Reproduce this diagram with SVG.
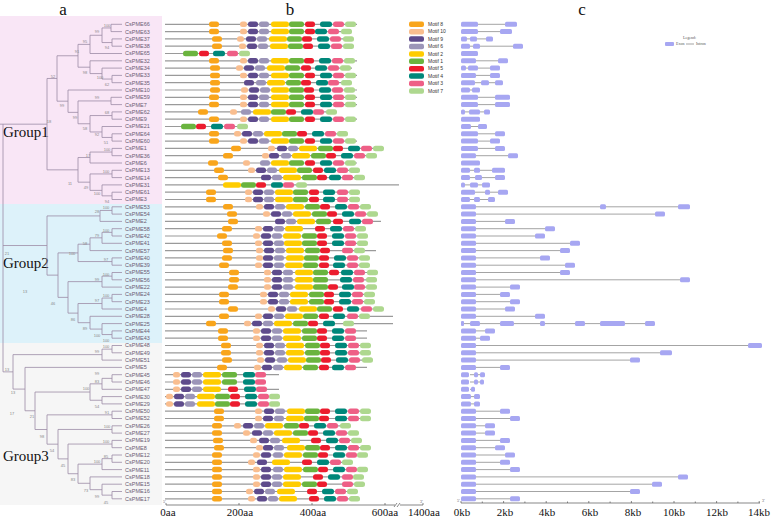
<svg xmlns="http://www.w3.org/2000/svg" xmlns:xlink="http://www.w3.org/1999/xlink" width="777" height="520" viewBox="0 0 777 520">
<style>
.lab{font-family:"Liberation Sans",Arial,sans-serif;font-size:5.5px;fill:#6b5b73}
.bs{font-family:"Liberation Sans",Arial,sans-serif;font-size:4px;fill:#888;text-anchor:middle}
.grp{font-family:"Liberation Serif","Times New Roman",serif;font-size:15px;fill:#111}
.pan{font-family:"Liberation Serif","Times New Roman",serif;font-size:17px;fill:#111;text-anchor:middle}
.ax{font-family:"Liberation Serif","Times New Roman",serif;font-size:11px;fill:#111;text-anchor:middle}
.tiny{font-family:"Liberation Serif","Times New Roman",serif;font-size:4px;fill:#555}
.leg{font-family:"Liberation Sans",Arial,sans-serif;font-size:5px;fill:#333}
.bb{stroke:#9a9a9a;stroke-width:1.2}
.ex{fill:#A7A7F2}
.in{stroke:#666;stroke-width:0.6}
.tree{fill:none;stroke:#9c8ca6;stroke-width:0.8}
.axl{stroke:#555;stroke-width:0.7;fill:none}
</style>
<defs>
<rect id="m8" y="-2.75" width="10" height="5.5" rx="2.5" fill="#F9A51B"/>
<rect id="m10" y="-2.75" width="7" height="5.5" rx="2.5" fill="#F9BE8F"/>
<rect id="m9" y="-2.75" width="10" height="5.5" rx="2.5" fill="#5E4B8C"/>
<rect id="m6" y="-2.75" width="10" height="5.5" rx="2.5" fill="#9C95B8"/>
<rect id="m2" y="-2.75" width="18" height="5.5" rx="2.5" fill="#FFCC00"/>
<rect id="m1" y="-2.75" width="15" height="5.5" rx="2.5" fill="#6AB43E"/>
<rect id="m5" y="-2.75" width="10" height="5.5" rx="2.5" fill="#EC1C2E"/>
<rect id="m4" y="-2.75" width="12" height="5.5" rx="2.5" fill="#00877A"/>
<rect id="m3" y="-2.75" width="11" height="5.5" rx="2.5" fill="#EE5F86"/>
<rect id="m7" y="-2.75" width="11" height="5.5" rx="2.5" fill="#AED88F"/>
</defs>
<rect width="777" height="520" fill="#fff"/>
<g id="backgrounds">
<rect x="0" y="16" width="162" height="188" fill="#F9E6F6"/>
<rect x="0" y="204" width="162" height="139" fill="#DDF2FA"/>
<rect x="0" y="343" width="162" height="162" fill="#F6F6F6"/>
</g>
<g id="panels">
<text class="pan" x="63" y="15">a</text>
<text class="pan" x="290" y="15">b</text>
<text class="pan" x="582" y="15">c</text>
<text class="grp" x="3" y="137">Group1</text>
<text class="grp" x="3" y="268">Group2</text>
<text class="grp" x="3" y="461">Group3</text>
</g>
<g id="tree">
<path class="tree" d="M111 24.3V31.6M111 24.3H122M111 31.6H122M112 38.9V46.2M112 38.9H122M112 46.2H122M102 27.95V42.55M102 27.95H111M102 42.55H112M90 35.25V53.5M90 35.25H102M90 53.5H122M112 75.4V82.7M112 75.4H122M112 82.7H122M102 68.1V79.05M102 68.1H122M102 79.05H112M90 60.8V73.58M90 60.8H122M90 73.58H102M78 44.38V67.19M78 44.38H90M78 67.19H90M111 97.3V104.6M111 97.3H122M111 104.6H122M112 111.9V119.2M112 111.9H122M112 119.2H122M112 133.8V141.1M112 133.8H122M112 141.1H122M102 126.5V137.45M102 126.5H122M102 137.45H112M90 115.55V131.98M90 115.55H112M90 131.98H102M78 100.95V123.76M78 100.95H111M78 123.76H90M68 90V112.36M68 90H122M68 112.36H78M57 55.78V101.18M57 55.78H78M57 101.18H68M112 148.4V155.7M112 148.4H122M112 155.7H122M90 152.05V163M90 152.05H112M90 163H122M112 170.3V177.6M112 170.3H122M112 177.6H122M112 192.2V199.5M112 192.2H122M112 199.5H122M102 184.9V195.85M102 184.9H122M102 195.85H112M90 173.95V190.38M90 173.95H112M90 190.38H102M78 157.53V182.16M78 157.53H90M78 182.16H90M47 78.48V169.85M47 78.48H57M47 169.85H78"/>
<path class="tree" d="M112 206.8V214.1M112 206.8H122M112 214.1H122M100 210.45V221.4M100 210.45H112M100 221.4H122M112 228.7V236M112 228.7H122M112 236H122M102 232.35V243.3M102 232.35H112M102 243.3H122M90 237.83V250.6M90 237.83H102M90 250.6H122M112 257.9V265.2M112 257.9H122M112 265.2H122M78 244.2V261.55M78 244.2H90M78 261.55H112M112 272.5V279.8M112 272.5H122M112 279.8H122M102 276.15V287.1M102 276.15H112M102 287.1H122M112 294.4V301.7M112 294.4H122M112 301.7H122M102 298.05V309M102 298.05H112M102 309H122M112 330.9V338.2M112 330.9H122M112 338.2H122M102 323.6V334.55M102 323.6H122M102 334.55H112M90 316.3V329.08M90 316.3H122M90 329.08H102M78 303.53V322.69M78 303.53H102M78 322.69H90M68 281.63V313.11M68 281.63H102M68 313.11H78M58 252.9V297.37M58 252.9H78M58 297.37H68M47 215.93V275.14M47 215.93H100M47 275.14H58"/>
<path class="tree" d="M112 345.5V352.8M112 345.5H122M112 352.8H122M102 349.15V360.1M102 349.15H112M102 360.1H122M112 374.7V382M112 374.7H122M112 382H122M102 378.35V389.3M102 378.35H112M102 389.3H122M102 396.6V403.9M102 396.6H122M102 403.9H122M90 383.83V400.25M90 383.83H102M90 400.25H102M112 411.2V418.5M112 411.2H122M112 418.5H122M112 425.8V433.1M112 425.8H122M112 433.1H122M112 440.4V447.7M112 440.4H122M112 447.7H122M112 455V462.3M112 455H122M112 462.3H122M102 458.65V469.6M102 458.65H112M102 469.6H122M112 491.5V498.8M112 491.5H122M112 498.8H122M102 484.2V495.15M102 484.2H122M102 495.15H112M90 476.9V489.68M90 476.9H122M90 489.68H102M78 464.13V483.29M78 464.13H102M78 483.29H90M68 444.05V473.71M68 444.05H112M68 473.71H78M58 429.45V458.88M58 429.45H112M58 458.88H68M47 414.85V444.17M47 414.85H112M47 444.17H58M35 392.04V429.51M35 392.04H90M35 429.51H47M25 367.4V410.78M25 367.4H122M25 410.78H35M13 354.63V389.09M13 354.63H102M13 389.09H25"/>
<path class="tree" d="M3 124.17V371.86M0 124.17H47M3 245.53H47M3 371.86H13"/>
</g>
<g id="bootstrap">
<text class="bs" x="107" y="26.5">100</text><text class="bs" x="107" y="48.8">94</text><text class="bs" x="97" y="32.5">99</text><text class="bs" x="85" y="43.2">95</text><text class="bs" x="77" y="53.2">91</text><text class="bs" x="85" y="73.5">98</text><text class="bs" x="100" y="78.5">100</text><text class="bs" x="107" y="85.5">62</text><text class="bs" x="53" y="78.2">52</text><text class="bs" x="97" y="99.2">99</text><text class="bs" x="62" y="106.5">99</text><text class="bs" x="75" y="118.5">99</text><text class="bs" x="107" y="113.5">68</text><text class="bs" x="85" y="129.5">58</text><text class="bs" x="97" y="135.5">92</text><text class="bs" x="106" y="143.5">51</text><text class="bs" x="49" y="122.5">18</text><text class="bs" x="107" y="150.5">100</text><text class="bs" x="88" y="156.5">17</text><text class="bs" x="70" y="184.5">11</text><text class="bs" x="106" y="172.5">100</text><text class="bs" x="86" y="189.2">49</text><text class="bs" x="97" y="194.8">100</text><text class="bs" x="107" y="202.5">94</text>
<text class="bs" x="106" y="209.2">100</text><text class="bs" x="97" y="213.2">28</text><text class="bs" x="106" y="231.5">100</text><text class="bs" x="97" y="236.5">79</text><text class="bs" x="85" y="244.5">58</text><text class="bs" x="106" y="260.5">97</text><text class="bs" x="72" y="254.5">100</text><text class="bs" x="7" y="254.5">21</text><text class="bs" x="106" y="275.8">100</text><text class="bs" x="97" y="280.5">99</text><text class="bs" x="25" y="293.2">13</text><text class="bs" x="106" y="296.5">100</text><text class="bs" x="97" y="301.5">97</text><text class="bs" x="53" y="304.8">46</text><text class="bs" x="73" y="320.5">86</text><text class="bs" x="85" y="329.8">89</text><text class="bs" x="97" y="336.5">100</text><text class="bs" x="106" y="341.5">100</text>
<text class="bs" x="106" y="347.5">100</text><text class="bs" x="97" y="352.5">99</text><text class="bs" x="7" y="370.5">13</text><text class="bs" x="97" y="374.8">99</text><text class="bs" x="97" y="382.5">83</text><text class="bs" x="86" y="389.8">100</text><text class="bs" x="13" y="394.2">13</text><text class="bs" x="97" y="407.5">54</text><text class="bs" x="12" y="414.8">17</text><text class="bs" x="32" y="418.2">21</text><text class="bs" x="107" y="414.2">91</text><text class="bs" x="107" y="427.5">100</text><text class="bs" x="42" y="438.2">98</text><text class="bs" x="52" y="451.5">54</text><text class="bs" x="106" y="443.2">100</text><text class="bs" x="106" y="457.5">85</text><text class="bs" x="97" y="462.5">100</text><text class="bs" x="63" y="466.5">45</text><text class="bs" x="73" y="480.8">83</text><text class="bs" x="86" y="492.2">73</text><text class="bs" x="97" y="497.5">99</text><text class="bs" x="106" y="504.2">45</text>
</g>
<g id="motif-legend">
<rect x="409" y="21.55" width="15" height="5.5" rx="2" fill="#F9A51B"/><text class="leg" x="428" y="26">Motif 8</text>
<rect x="409" y="28.95" width="15" height="5.5" rx="2" fill="#F9BE8F"/><text class="leg" x="428" y="33.4">Motif 10</text>
<rect x="409" y="36.35" width="15" height="5.5" rx="2" fill="#5E4B8C"/><text class="leg" x="428" y="40.8">Motif 9</text>
<rect x="409" y="43.75" width="15" height="5.5" rx="2" fill="#9C95B8"/><text class="leg" x="428" y="48.2">Motif 6</text>
<rect x="409" y="51.15" width="15" height="5.5" rx="2" fill="#FFCC00"/><text class="leg" x="428" y="55.6">Motif 2</text>
<rect x="409" y="58.55" width="15" height="5.5" rx="2" fill="#6AB43E"/><text class="leg" x="428" y="63">Motif 1</text>
<rect x="409" y="65.95" width="15" height="5.5" rx="2" fill="#EC1C2E"/><text class="leg" x="428" y="70.4">Motif 5</text>
<rect x="409" y="73.35" width="15" height="5.5" rx="2" fill="#00877A"/><text class="leg" x="428" y="77.8">Motif 4</text>
<rect x="409" y="80.75" width="15" height="5.5" rx="2" fill="#EE5F86"/><text class="leg" x="428" y="85.2">Motif 3</text>
<rect x="409" y="88.15" width="15" height="5.5" rx="2" fill="#AED88F"/><text class="leg" x="428" y="92.6">Motif 7</text>
</g>
<g id="gene-legend">
<text class="tiny" x="683" y="39">Legend:</text>
<rect class="ex" x="665" y="42" width="9" height="4" rx="1"/><text class="tiny" x="676" y="45.3">Exon</text>
<line class="in" x1="686" y1="44" x2="694" y2="44"/><text class="tiny" x="696" y="45.3">Intron</text>
</g>
<g id="rows">
<g id="r0" transform="translate(0,24.3)"><text class="lab" x="125" y="1.9">CsPME66</text><line class="bb" x1="165" x2="357"/><use href="#m8" x="209"/><use href="#m10" x="240"/><use href="#m9" x="248"/><use href="#m6" x="259"/><use href="#m2" x="271"/><use href="#m1" x="289"/><use href="#m5" x="305"/><use href="#m4" x="320"/><use href="#m3" x="333"/><use href="#m7" x="345"/><line class="in" x1="475" x2="507"/><rect class="ex" x="461" y="-2.5" width="17" height="5" rx="1.5"/><rect class="ex" x="505" y="-2.5" width="12" height="5" rx="1.5"/></g>
<g id="r1" transform="translate(0,31.6)"><text class="lab" x="125" y="1.9">CsPME63</text><line class="bb" x1="165" x2="352"/><use href="#m8" x="209"/><use href="#m10" x="240"/><use href="#m9" x="248"/><use href="#m6" x="259"/><use href="#m2" x="271"/><use href="#m1" x="289"/><use href="#m5" x="305"/><use href="#m4" x="315"/><use href="#m3" x="328"/><use href="#m7" x="341"/><line class="in" x1="475" x2="502"/><rect class="ex" x="461" y="-2.5" width="17" height="5" rx="1.5"/><rect class="ex" x="500" y="-2.5" width="12" height="5" rx="1.5"/></g>
<g id="r2" transform="translate(0,38.9)"><text class="lab" x="125" y="1.9">CsPME37</text><line class="bb" x1="165" x2="353"/><use href="#m8" x="212"/><use href="#m10" x="237"/><use href="#m9" x="246"/><use href="#m6" x="257"/><use href="#m2" x="269"/><use href="#m1" x="287"/><use href="#m5" x="302"/><use href="#m4" x="317"/><use href="#m3" x="330"/><use href="#m7" x="343"/><line class="in" x1="465" x2="488"/><rect class="ex" x="461" y="-2.5" width="6" height="5" rx="1.5"/><rect class="ex" x="470" y="-2.5" width="7" height="5" rx="1.5"/><rect class="ex" x="486" y="-2.5" width="7" height="5" rx="1.5"/></g>
<g id="r3" transform="translate(0,46.2)"><text class="lab" x="125" y="1.9">CsPME38</text><line class="bb" x1="165" x2="354"/><use href="#m8" x="212"/><use href="#m10" x="239"/><use href="#m9" x="247"/><use href="#m6" x="258"/><use href="#m2" x="270"/><use href="#m1" x="288"/><use href="#m5" x="303"/><use href="#m4" x="318"/><use href="#m3" x="331"/><use href="#m7" x="343"/><line class="in" x1="468" x2="515"/><rect class="ex" x="461" y="-2.5" width="9" height="5" rx="1.5"/><rect class="ex" x="473" y="-2.5" width="7" height="5" rx="1.5"/><rect class="ex" x="513" y="-2.5" width="10" height="5" rx="1.5"/></g>
<g id="r4" transform="translate(0,53.5)"><text class="lab" x="125" y="1.9">CsPME65</text><line class="bb" x1="165" x2="250"/><use href="#m1" x="183"/><use href="#m5" x="199"/><use href="#m4" x="213"/><use href="#m3" x="227"/><use href="#m7" x="239"/><rect class="ex" x="461" y="-2.5" width="17" height="5" rx="1.5"/></g>
<g id="r5" transform="translate(0,60.8)"><text class="lab" x="125" y="1.9">CsPME32</text><line class="bb" x1="165" x2="357"/><use href="#m8" x="209"/><use href="#m10" x="240"/><use href="#m9" x="248"/><use href="#m6" x="259"/><use href="#m2" x="271"/><use href="#m1" x="289"/><use href="#m5" x="304"/><use href="#m4" x="319"/><use href="#m3" x="332"/><use href="#m7" x="344"/><line class="in" x1="475" x2="500"/><rect class="ex" x="461" y="-2.5" width="15" height="5" rx="1.5"/><rect class="ex" x="498" y="-2.5" width="10" height="5" rx="1.5"/></g>
<g id="r6" transform="translate(0,68.1)"><text class="lab" x="125" y="1.9">CsPME34</text><line class="bb" x1="165" x2="352"/><use href="#m8" x="210"/><use href="#m10" x="236"/><use href="#m9" x="244"/><use href="#m6" x="255"/><use href="#m2" x="267"/><use href="#m1" x="285"/><use href="#m5" x="301"/><use href="#m4" x="315"/><use href="#m3" x="328"/><use href="#m7" x="340"/><line class="in" x1="464" x2="492"/><rect class="ex" x="461" y="-2.5" width="5" height="5" rx="1.5"/><rect class="ex" x="468" y="-2.5" width="10" height="5" rx="1.5"/><rect class="ex" x="490" y="-2.5" width="10" height="5" rx="1.5"/></g>
<g id="r7" transform="translate(0,75.4)"><text class="lab" x="125" y="1.9">CsPME33</text><line class="bb" x1="165" x2="357"/><use href="#m8" x="210"/><use href="#m10" x="240"/><use href="#m9" x="248"/><use href="#m6" x="259"/><use href="#m2" x="271"/><use href="#m1" x="289"/><use href="#m5" x="305"/><use href="#m4" x="320"/><use href="#m3" x="333"/><use href="#m7" x="345"/><line class="in" x1="475" x2="492"/><rect class="ex" x="461" y="-2.5" width="15" height="5" rx="1.5"/><rect class="ex" x="490" y="-2.5" width="10" height="5" rx="1.5"/></g>
<g id="r8" transform="translate(0,82.7)"><text class="lab" x="125" y="1.9">CsPME35</text><line class="bb" x1="165" x2="352"/><use href="#m8" x="210"/><use href="#m9" x="244"/><use href="#m6" x="256"/><use href="#m2" x="267"/><use href="#m1" x="286"/><use href="#m5" x="301"/><use href="#m4" x="316"/><use href="#m3" x="328"/><use href="#m7" x="341"/><line class="in" x1="475" x2="495"/><rect class="ex" x="461" y="-2.5" width="14" height="5" rx="1.5"/><rect class="ex" x="481" y="-2.5" width="8" height="5" rx="1.5"/><rect class="ex" x="495" y="-2.5" width="8" height="5" rx="1.5"/></g>
<g id="r9" transform="translate(0,90)"><text class="lab" x="125" y="1.9">CsPME10</text><line class="bb" x1="165" x2="357"/><use href="#m8" x="210"/><use href="#m10" x="241"/><use href="#m9" x="249"/><use href="#m6" x="260"/><use href="#m2" x="271"/><use href="#m1" x="289"/><use href="#m5" x="304"/><use href="#m4" x="319"/><use href="#m3" x="332"/><use href="#m7" x="344"/><line class="in" x1="468" x2="474"/><rect class="ex" x="461" y="-2.5" width="9" height="5" rx="1.5"/><rect class="ex" x="472" y="-2.5" width="8" height="5" rx="1.5"/></g>
<g id="r10" transform="translate(0,97.3)"><text class="lab" x="125" y="1.9">CsPME59</text><line class="bb" x1="165" x2="357"/><use href="#m8" x="209"/><use href="#m10" x="240"/><use href="#m9" x="248"/><use href="#m6" x="259"/><use href="#m2" x="271"/><use href="#m1" x="289"/><use href="#m5" x="305"/><use href="#m4" x="320"/><use href="#m3" x="333"/><use href="#m7" x="345"/><line class="in" x1="475" x2="497"/><rect class="ex" x="461" y="-2.5" width="17" height="5" rx="1.5"/><rect class="ex" x="495" y="-2.5" width="15" height="5" rx="1.5"/></g>
<g id="r11" transform="translate(0,104.6)"><text class="lab" x="125" y="1.9">CsPME7</text><line class="bb" x1="165" x2="357"/><use href="#m8" x="209"/><use href="#m10" x="240"/><use href="#m9" x="248"/><use href="#m6" x="259"/><use href="#m2" x="271"/><use href="#m1" x="289"/><use href="#m5" x="305"/><use href="#m4" x="320"/><use href="#m3" x="333"/><use href="#m7" x="345"/><line class="in" x1="475" x2="497"/><rect class="ex" x="461" y="-2.5" width="17" height="5" rx="1.5"/><rect class="ex" x="495" y="-2.5" width="15" height="5" rx="1.5"/></g>
<g id="r12" transform="translate(0,111.9)"><text class="lab" x="125" y="1.9">CsPME62</text><line class="bb" x1="165" x2="337"/><use href="#m8" x="198"/><use href="#m10" x="230"/><use href="#m6" x="241"/><use href="#m2" x="253"/><use href="#m1" x="271"/><use href="#m5" x="286"/><use href="#m4" x="301"/><use href="#m3" x="313"/><use href="#m7" x="326"/><line class="in" x1="464" x2="486"/><rect class="ex" x="461" y="-2.5" width="4" height="5" rx="1.5"/><rect class="ex" x="469" y="-2.5" width="11" height="5" rx="1.5"/><rect class="ex" x="484" y="-2.5" width="6" height="5" rx="1.5"/></g>
<g id="r13" transform="translate(0,119.2)"><text class="lab" x="125" y="1.9">CsPME9</text><line class="bb" x1="165" x2="357"/><use href="#m8" x="209"/><use href="#m10" x="240"/><use href="#m9" x="248"/><use href="#m6" x="259"/><use href="#m2" x="271"/><use href="#m1" x="289"/><use href="#m5" x="305"/><use href="#m4" x="320"/><use href="#m3" x="333"/><use href="#m7" x="345"/><rect class="ex" x="461" y="-2.5" width="19" height="5" rx="1.5"/></g>
<g id="r14" transform="translate(0,126.5)"><text class="lab" x="125" y="1.9">CsPME21</text><line class="bb" x1="165" x2="248"/><use href="#m1" x="181"/><use href="#m5" x="196"/><use href="#m4" x="211"/><use href="#m3" x="224"/><use href="#m7" x="237"/><line class="in" x1="470" x2="480"/><rect class="ex" x="461" y="-2.5" width="10" height="5" rx="1.5"/><rect class="ex" x="478" y="-2.5" width="9" height="5" rx="1.5"/></g>
<g id="r15" transform="translate(0,133.8)"><text class="lab" x="125" y="1.9">CsPME64</text><line class="bb" x1="165" x2="348"/><use href="#m8" x="209"/><use href="#m10" x="234"/><use href="#m9" x="242"/><use href="#m6" x="253"/><use href="#m2" x="264"/><use href="#m1" x="282"/><use href="#m5" x="297"/><use href="#m4" x="312"/><use href="#m3" x="325"/><use href="#m7" x="337"/><line class="in" x1="475" x2="497"/><rect class="ex" x="461" y="-2.5" width="17" height="5" rx="1.5"/><rect class="ex" x="495" y="-2.5" width="10" height="5" rx="1.5"/></g>
<g id="r16" transform="translate(0,141.1)"><text class="lab" x="125" y="1.9">CsPME60</text><line class="bb" x1="165" x2="357"/><use href="#m8" x="209"/><use href="#m10" x="240"/><use href="#m9" x="248"/><use href="#m6" x="259"/><use href="#m2" x="271"/><use href="#m1" x="289"/><use href="#m5" x="305"/><use href="#m4" x="320"/><use href="#m3" x="333"/><use href="#m7" x="345"/><line class="in" x1="475" x2="492"/><rect class="ex" x="461" y="-2.5" width="17" height="5" rx="1.5"/><rect class="ex" x="490" y="-2.5" width="10" height="5" rx="1.5"/></g>
<g id="r17" transform="translate(0,148.4)"><text class="lab" x="125" y="1.9">CsPME1</text><line class="bb" x1="165" x2="384"/><use href="#m8" x="231"/><use href="#m10" x="268"/><use href="#m9" x="277"/><use href="#m6" x="288"/><use href="#m2" x="299"/><use href="#m1" x="318"/><use href="#m5" x="333"/><use href="#m4" x="348"/><use href="#m3" x="361"/><use href="#m7" x="373"/><line class="in" x1="475" x2="497"/><rect class="ex" x="461" y="-2.5" width="17" height="5" rx="1.5"/><rect class="ex" x="495" y="-2.5" width="10" height="5" rx="1.5"/></g>
<g id="r18" transform="translate(0,155.7)"><text class="lab" x="125" y="1.9">CsPME36</text><line class="bb" x1="165" x2="377"/><use href="#m8" x="223"/><use href="#m10" x="262"/><use href="#m9" x="269"/><use href="#m6" x="281"/><use href="#m2" x="292"/><use href="#m1" x="311"/><use href="#m5" x="326"/><use href="#m4" x="341"/><use href="#m3" x="354"/><use href="#m7" x="366"/><line class="in" x1="475" x2="510"/><rect class="ex" x="461" y="-2.5" width="15" height="5" rx="1.5"/><rect class="ex" x="508" y="-2.5" width="10" height="5" rx="1.5"/></g>
<g id="r19" transform="translate(0,163)"><text class="lab" x="125" y="1.9">CsPME6</text><line class="bb" x1="165" x2="357"/><use href="#m8" x="208"/><use href="#m10" x="243"/><use href="#m6" x="260"/><use href="#m2" x="271"/><use href="#m1" x="289"/><use href="#m5" x="305"/><use href="#m4" x="320"/><use href="#m3" x="333"/><use href="#m7" x="345"/><rect class="ex" x="461" y="-2.5" width="19" height="5" rx="1.5"/></g>
<g id="r20" transform="translate(0,170.3)"><text class="lab" x="125" y="1.9">CsPME13</text><line class="bb" x1="165" x2="360"/><use href="#m8" x="214"/><use href="#m10" x="248"/><use href="#m9" x="256"/><use href="#m6" x="267"/><use href="#m2" x="279"/><use href="#m1" x="297"/><use href="#m5" x="313"/><use href="#m4" x="324"/><use href="#m3" x="337"/><use href="#m7" x="349"/><line class="in" x1="468" x2="497"/><rect class="ex" x="461" y="-2.5" width="9" height="5" rx="1.5"/><rect class="ex" x="474" y="-2.5" width="6" height="5" rx="1.5"/><rect class="ex" x="492" y="-2.5" width="13" height="5" rx="1.5"/></g>
<g id="r21" transform="translate(0,177.6)"><text class="lab" x="125" y="1.9">CsPME14</text><line class="bb" x1="165" x2="365"/><use href="#m8" x="218"/><use href="#m9" x="261"/><use href="#m6" x="272"/><use href="#m2" x="283"/><use href="#m1" x="302"/><use href="#m5" x="317"/><use href="#m4" x="329"/><use href="#m3" x="342"/><use href="#m7" x="354"/><line class="in" x1="468" x2="497"/><rect class="ex" x="461" y="-2.5" width="9" height="5" rx="1.5"/><rect class="ex" x="475" y="-2.5" width="7" height="5" rx="1.5"/><rect class="ex" x="495" y="-2.5" width="10" height="5" rx="1.5"/></g>
<g id="r22" transform="translate(0,184.9)"><text class="lab" x="125" y="1.9">CsPME31</text><line class="bb" x1="165" x2="399"/><use href="#m2" x="223"/><use href="#m1" x="241"/><use href="#m5" x="256"/><use href="#m4" x="271"/><use href="#m3" x="283"/><use href="#m7" x="296"/><line class="in" x1="464" x2="484"/><rect class="ex" x="461" y="-2.5" width="4" height="5" rx="1.5"/><rect class="ex" x="470" y="-2.5" width="8" height="5" rx="1.5"/><rect class="ex" x="482" y="-2.5" width="8" height="5" rx="1.5"/></g>
<g id="r23" transform="translate(0,192.2)"><text class="lab" x="125" y="1.9">CsPME61</text><line class="bb" x1="165" x2="360"/><use href="#m8" x="206"/><use href="#m10" x="245"/><use href="#m9" x="253"/><use href="#m6" x="264"/><use href="#m2" x="275"/><use href="#m1" x="293"/><use href="#m5" x="309"/><use href="#m4" x="323"/><use href="#m3" x="337"/><use href="#m7" x="349"/><line class="in" x1="475" x2="500"/><rect class="ex" x="461" y="-2.5" width="14" height="5" rx="1.5"/><rect class="ex" x="485" y="-2.5" width="5" height="5" rx="1.5"/><rect class="ex" x="498" y="-2.5" width="10" height="5" rx="1.5"/></g>
<g id="r24" transform="translate(0,199.5)"><text class="lab" x="125" y="1.9">CsPME3</text><line class="bb" x1="165" x2="360"/><use href="#m8" x="206"/><use href="#m10" x="245"/><use href="#m9" x="253"/><use href="#m6" x="264"/><use href="#m2" x="275"/><use href="#m1" x="293"/><use href="#m5" x="309"/><use href="#m4" x="323"/><use href="#m3" x="337"/><use href="#m7" x="349"/><line class="in" x1="468" x2="490"/><rect class="ex" x="461" y="-2.5" width="9" height="5" rx="1.5"/><rect class="ex" x="474" y="-2.5" width="6" height="5" rx="1.5"/><rect class="ex" x="488" y="-2.5" width="7" height="5" rx="1.5"/></g>
<g id="r25" transform="translate(0,206.8)"><text class="lab" x="125" y="1.9">CsPME53</text><line class="bb" x1="165" x2="371"/><use href="#m8" x="223"/><use href="#m10" x="256"/><use href="#m9" x="264"/><use href="#m6" x="275"/><use href="#m2" x="286"/><use href="#m1" x="305"/><use href="#m5" x="320"/><use href="#m4" x="335"/><use href="#m3" x="348"/><use href="#m7" x="360"/><line class="in" x1="475" x2="685"/><rect class="ex" x="461" y="-2.5" width="15" height="5" rx="1.5"/><rect class="ex" x="600" y="-2.5" width="6" height="5" rx="1.5"/><rect class="ex" x="678" y="-2.5" width="12" height="5" rx="1.5"/></g>
<g id="r26" transform="translate(0,214.1)"><text class="lab" x="125" y="1.9">CsPME54</text><line class="bb" x1="165" x2="378"/><use href="#m8" x="227"/><use href="#m10" x="263"/><use href="#m9" x="271"/><use href="#m6" x="282"/><use href="#m2" x="293"/><use href="#m1" x="312"/><use href="#m5" x="327"/><use href="#m4" x="342"/><use href="#m3" x="355"/><use href="#m7" x="367"/><line class="in" x1="475" x2="660"/><rect class="ex" x="461" y="-2.5" width="15" height="5" rx="1.5"/><rect class="ex" x="655" y="-2.5" width="10" height="5" rx="1.5"/></g>
<g id="r27" transform="translate(0,221.4)"><text class="lab" x="125" y="1.9">CsPME2</text><line class="bb" x1="165" x2="381"/><use href="#m8" x="228"/><use href="#m9" x="275"/><use href="#m6" x="286"/><use href="#m2" x="297"/><use href="#m1" x="316"/><use href="#m5" x="333"/><use href="#m4" x="349"/><use href="#m3" x="362"/><line class="in" x1="475" x2="507"/><rect class="ex" x="461" y="-2.5" width="15" height="5" rx="1.5"/><rect class="ex" x="505" y="-2.5" width="10" height="5" rx="1.5"/></g>
<g id="r28" transform="translate(0,228.7)"><text class="lab" x="125" y="1.9">CsPME58</text><line class="bb" x1="165" x2="366"/><use href="#m8" x="222"/><use href="#m10" x="255"/><use href="#m9" x="263"/><use href="#m6" x="274"/><use href="#m2" x="285"/><use href="#m5" x="315"/><use href="#m4" x="330"/><use href="#m3" x="343"/><use href="#m7" x="355"/><line class="in" x1="475" x2="550"/><rect class="ex" x="461" y="-2.5" width="15" height="5" rx="1.5"/><rect class="ex" x="545" y="-2.5" width="10" height="5" rx="1.5"/></g>
<g id="r29" transform="translate(0,236)"><text class="lab" x="125" y="1.9">CsPME42</text><line class="bb" x1="165" x2="368"/><use href="#m8" x="217"/><use href="#m10" x="253"/><use href="#m9" x="261"/><use href="#m6" x="272"/><use href="#m2" x="283"/><use href="#m1" x="302"/><use href="#m5" x="317"/><use href="#m4" x="332"/><use href="#m3" x="345"/><use href="#m7" x="357"/><line class="in" x1="475" x2="540"/><rect class="ex" x="461" y="-2.5" width="15" height="5" rx="1.5"/><rect class="ex" x="535" y="-2.5" width="10" height="5" rx="1.5"/></g>
<g id="r30" transform="translate(0,243.3)"><text class="lab" x="125" y="1.9">CsPME41</text><line class="bb" x1="165" x2="368"/><use href="#m8" x="222"/><use href="#m10" x="255"/><use href="#m9" x="263"/><use href="#m6" x="274"/><use href="#m2" x="284"/><use href="#m1" x="302"/><use href="#m5" x="317"/><use href="#m4" x="332"/><use href="#m3" x="345"/><use href="#m7" x="357"/><line class="in" x1="475" x2="575"/><rect class="ex" x="461" y="-2.5" width="15" height="5" rx="1.5"/><rect class="ex" x="570" y="-2.5" width="10" height="5" rx="1.5"/></g>
<g id="r31" transform="translate(0,250.6)"><text class="lab" x="125" y="1.9">CsPME57</text><line class="bb" x1="165" x2="376"/><use href="#m8" x="223"/><use href="#m10" x="256"/><use href="#m9" x="264"/><use href="#m6" x="275"/><use href="#m2" x="286"/><use href="#m1" x="305"/><use href="#m5" x="320"/><use href="#m3" x="342"/><use href="#m7" x="354"/><line class="in" x1="475" x2="565"/><rect class="ex" x="461" y="-2.5" width="15" height="5" rx="1.5"/><rect class="ex" x="560" y="-2.5" width="10" height="5" rx="1.5"/></g>
<g id="r32" transform="translate(0,257.9)"><text class="lab" x="125" y="1.9">CsPME40</text><line class="bb" x1="165" x2="370"/><use href="#m8" x="222"/><use href="#m10" x="256"/><use href="#m9" x="263"/><use href="#m6" x="274"/><use href="#m2" x="286"/><use href="#m1" x="304"/><use href="#m5" x="319"/><use href="#m4" x="334"/><use href="#m3" x="347"/><use href="#m7" x="359"/><line class="in" x1="475" x2="545"/><rect class="ex" x="461" y="-2.5" width="15" height="5" rx="1.5"/><rect class="ex" x="540" y="-2.5" width="10" height="5" rx="1.5"/></g>
<g id="r33" transform="translate(0,265.2)"><text class="lab" x="125" y="1.9">CsPME39</text><line class="bb" x1="165" x2="370"/><use href="#m8" x="219"/><use href="#m10" x="255"/><use href="#m9" x="263"/><use href="#m6" x="274"/><use href="#m2" x="285"/><use href="#m1" x="303"/><use href="#m5" x="319"/><use href="#m4" x="333"/><use href="#m3" x="347"/><use href="#m7" x="359"/><line class="in" x1="475" x2="570"/><rect class="ex" x="461" y="-2.5" width="15" height="5" rx="1.5"/><rect class="ex" x="565" y="-2.5" width="10" height="5" rx="1.5"/></g>
<g id="r34" transform="translate(0,272.5)"><text class="lab" x="125" y="1.9">CsPME55</text><line class="bb" x1="165" x2="378"/><use href="#m8" x="229"/><use href="#m10" x="264"/><use href="#m9" x="272"/><use href="#m6" x="283"/><use href="#m2" x="295"/><use href="#m1" x="313"/><use href="#m5" x="329"/><use href="#m4" x="341"/><use href="#m3" x="354"/><use href="#m7" x="367"/><line class="in" x1="475" x2="565"/><rect class="ex" x="461" y="-2.5" width="15" height="5" rx="1.5"/><rect class="ex" x="560" y="-2.5" width="10" height="5" rx="1.5"/></g>
<g id="r35" transform="translate(0,279.8)"><text class="lab" x="125" y="1.9">CsPME56</text><line class="bb" x1="165" x2="377"/><use href="#m8" x="229"/><use href="#m10" x="264"/><use href="#m9" x="272"/><use href="#m6" x="283"/><use href="#m2" x="295"/><use href="#m1" x="313"/><use href="#m4" x="340"/><use href="#m3" x="353"/><use href="#m7" x="366"/><line class="in" x1="475" x2="685"/><rect class="ex" x="461" y="-2.5" width="15" height="5" rx="1.5"/><rect class="ex" x="680" y="-2.5" width="10" height="5" rx="1.5"/></g>
<g id="r36" transform="translate(0,287.1)"><text class="lab" x="125" y="1.9">CsPME22</text><line class="bb" x1="165" x2="377"/><use href="#m8" x="228"/><use href="#m10" x="264"/><use href="#m9" x="272"/><use href="#m6" x="283"/><use href="#m2" x="295"/><use href="#m1" x="313"/><use href="#m5" x="328"/><use href="#m4" x="342"/><use href="#m3" x="354"/><use href="#m7" x="366"/><line class="in" x1="475" x2="512"/><rect class="ex" x="461" y="-2.5" width="15" height="5" rx="1.5"/><rect class="ex" x="510" y="-2.5" width="10" height="5" rx="1.5"/></g>
<g id="r37" transform="translate(0,294.4)"><text class="lab" x="125" y="1.9">CsPME24</text><line class="bb" x1="165" x2="375"/><use href="#m8" x="219"/><use href="#m10" x="260"/><use href="#m9" x="268"/><use href="#m6" x="279"/><use href="#m2" x="290"/><use href="#m1" x="309"/><use href="#m5" x="324"/><use href="#m4" x="339"/><use href="#m3" x="352"/><use href="#m7" x="364"/><line class="in" x1="475" x2="502"/><rect class="ex" x="461" y="-2.5" width="15" height="5" rx="1.5"/><rect class="ex" x="500" y="-2.5" width="10" height="5" rx="1.5"/></g>
<g id="r38" transform="translate(0,301.7)"><text class="lab" x="125" y="1.9">CsPME23</text><line class="bb" x1="165" x2="375"/><use href="#m8" x="219"/><use href="#m10" x="260"/><use href="#m9" x="268"/><use href="#m6" x="279"/><use href="#m2" x="290"/><use href="#m1" x="309"/><use href="#m5" x="324"/><use href="#m4" x="339"/><use href="#m3" x="352"/><use href="#m7" x="364"/><line class="in" x1="475" x2="512"/><rect class="ex" x="461" y="-2.5" width="15" height="5" rx="1.5"/><rect class="ex" x="510" y="-2.5" width="10" height="5" rx="1.5"/></g>
<g id="r39" transform="translate(0,309)"><text class="lab" x="125" y="1.9">CsPME4</text><line class="bb" x1="165" x2="384"/><use href="#m8" x="228"/><use href="#m10" x="268"/><use href="#m9" x="276"/><use href="#m6" x="287"/><use href="#m2" x="299"/><use href="#m1" x="317"/><use href="#m5" x="333"/><use href="#m4" x="347"/><use href="#m3" x="361"/><use href="#m7" x="373"/><line class="in" x1="475" x2="507"/><rect class="ex" x="461" y="-2.5" width="15" height="5" rx="1.5"/><rect class="ex" x="505" y="-2.5" width="10" height="5" rx="1.5"/></g>
<g id="r40" transform="translate(0,316.3)"><text class="lab" x="125" y="1.9">CsPME28</text><line class="bb" x1="165" x2="393"/><use href="#m8" x="219"/><use href="#m10" x="255"/><use href="#m9" x="263"/><use href="#m6" x="274"/><use href="#m2" x="285"/><use href="#m1" x="303"/><use href="#m5" x="319"/><use href="#m4" x="333"/><use href="#m3" x="347"/><use href="#m7" x="359"/><line class="in" x1="475" x2="537"/><rect class="ex" x="461" y="-2.5" width="15" height="5" rx="1.5"/><rect class="ex" x="535" y="-2.5" width="10" height="5" rx="1.5"/></g>
<g id="r41" transform="translate(0,323.6)"><text class="lab" x="125" y="1.9">CsPME25</text><line class="bb" x1="165" x2="393"/><use href="#m8" x="206"/><use href="#m10" x="244"/><use href="#m9" x="252"/><use href="#m6" x="263"/><use href="#m2" x="274"/><use href="#m1" x="293"/><use href="#m5" x="308"/><use href="#m4" x="323"/><use href="#m7" x="343"/><line class="in" x1="462" x2="655"/><rect class="ex" x="461" y="-2.5" width="3" height="5" rx="1"/><rect class="ex" x="470" y="-2.5" width="10" height="5" rx="1.5"/><rect class="ex" x="500" y="-2.5" width="14" height="5" rx="1.5"/><rect class="ex" x="540" y="-2.5" width="5" height="5" rx="1.5"/><rect class="ex" x="575" y="-2.5" width="10" height="5" rx="1.5"/><rect class="ex" x="600" y="-2.5" width="25" height="5" rx="1.5"/><rect class="ex" x="645" y="-2.5" width="10" height="5" rx="1.5"/></g>
<g id="r42" transform="translate(0,330.9)"><text class="lab" x="125" y="1.9">CsPME44</text><line class="bb" x1="165" x2="367"/><use href="#m8" x="218"/><use href="#m10" x="253"/><use href="#m9" x="261"/><use href="#m6" x="272"/><use href="#m2" x="283"/><use href="#m1" x="302"/><use href="#m5" x="317"/><use href="#m4" x="332"/><use href="#m3" x="345"/><line class="in" x1="475" x2="487"/><rect class="ex" x="461" y="-2.5" width="15" height="5" rx="1.5"/><rect class="ex" x="485" y="-2.5" width="10" height="5" rx="1.5"/></g>
<g id="r43" transform="translate(0,338.2)"><text class="lab" x="125" y="1.9">CsPME43</text><line class="bb" x1="165" x2="367"/><use href="#m8" x="218"/><use href="#m10" x="253"/><use href="#m9" x="261"/><use href="#m6" x="272"/><use href="#m2" x="283"/><use href="#m1" x="302"/><use href="#m5" x="317"/><use href="#m4" x="332"/><use href="#m3" x="345"/><line class="in" x1="475" x2="482"/><rect class="ex" x="461" y="-2.5" width="15" height="5" rx="1.5"/><rect class="ex" x="480" y="-2.5" width="10" height="5" rx="1.5"/></g>
<g id="r44" transform="translate(0,345.5)"><text class="lab" x="125" y="1.9">CsPME48</text><line class="bb" x1="165" x2="371"/><use href="#m8" x="221"/><use href="#m10" x="256"/><use href="#m9" x="264"/><use href="#m6" x="275"/><use href="#m2" x="286"/><use href="#m1" x="305"/><use href="#m5" x="320"/><use href="#m4" x="335"/><use href="#m3" x="348"/><use href="#m7" x="360"/><line class="in" x1="475" x2="752"/><rect class="ex" x="461" y="-2.5" width="15" height="5" rx="1.5"/><rect class="ex" x="748" y="-2.5" width="14" height="5" rx="1.5"/></g>
<g id="r45" transform="translate(0,352.8)"><text class="lab" x="125" y="1.9">CsPME49</text><line class="bb" x1="165" x2="371"/><use href="#m8" x="221"/><use href="#m10" x="256"/><use href="#m9" x="264"/><use href="#m6" x="275"/><use href="#m2" x="286"/><use href="#m1" x="305"/><use href="#m5" x="320"/><use href="#m4" x="335"/><use href="#m3" x="348"/><use href="#m7" x="360"/><line class="in" x1="475" x2="665"/><rect class="ex" x="461" y="-2.5" width="15" height="5" rx="1.5"/><rect class="ex" x="660" y="-2.5" width="12" height="5" rx="1.5"/></g>
<g id="r46" transform="translate(0,360.1)"><text class="lab" x="125" y="1.9">CsPME51</text><line class="bb" x1="165" x2="373"/><use href="#m8" x="222"/><use href="#m10" x="257"/><use href="#m9" x="265"/><use href="#m6" x="277"/><use href="#m2" x="288"/><use href="#m1" x="306"/><use href="#m5" x="321"/><use href="#m4" x="336"/><use href="#m3" x="349"/><use href="#m7" x="362"/><line class="in" x1="475" x2="635"/><rect class="ex" x="461" y="-2.5" width="15" height="5" rx="1.5"/><rect class="ex" x="630" y="-2.5" width="10" height="5" rx="1.5"/></g>
<g id="r47" transform="translate(0,367.4)"><text class="lab" x="125" y="1.9">CsPME5</text><line class="bb" x1="165" x2="367"/><use href="#m8" x="217"/><use href="#m10" x="254"/><use href="#m9" x="262"/><use href="#m6" x="273"/><use href="#m2" x="284"/><use href="#m1" x="303"/><use href="#m5" x="319"/><use href="#m4" x="332"/><use href="#m3" x="345"/><line class="in" x1="475" x2="502"/><rect class="ex" x="461" y="-2.5" width="15" height="5" rx="1.5"/><rect class="ex" x="500" y="-2.5" width="10" height="5" rx="1.5"/></g>
<g id="r48" transform="translate(0,374.7)"><text class="lab" x="125" y="1.9">CsPME45</text><line class="bb" x1="165" x2="279"/><use href="#m10" x="173"/><use href="#m9" x="181"/><use href="#m6" x="192"/><use href="#m2" x="203"/><use href="#m1" x="222"/><use href="#m4" x="243"/><use href="#m3" x="255"/><line class="in" x1="470" x2="480"/><rect class="ex" x="461" y="-2.5" width="8" height="5" rx="1.5"/><rect class="ex" x="474" y="-2.5" width="4" height="5" rx="1.5"/><rect class="ex" x="480" y="-2.5" width="5" height="5" rx="1.5"/></g>
<g id="r49" transform="translate(0,382)"><text class="lab" x="125" y="1.9">CsPME46</text><line class="bb" x1="165" x2="266"/><use href="#m10" x="173"/><use href="#m9" x="181"/><use href="#m6" x="192"/><use href="#m2" x="203"/><use href="#m1" x="222"/><use href="#m4" x="243"/><use href="#m3" x="255"/><line class="in" x1="470" x2="480"/><rect class="ex" x="461" y="-2.5" width="8" height="5" rx="1.5"/><rect class="ex" x="474" y="-2.5" width="4" height="5" rx="1.5"/><rect class="ex" x="480" y="-2.5" width="4" height="5" rx="1.5"/></g>
<g id="r50" transform="translate(0,389.3)"><text class="lab" x="125" y="1.9">CsPME47</text><line class="bb" x1="165" x2="279"/><use href="#m10" x="173"/><use href="#m9" x="181"/><use href="#m6" x="192"/><use href="#m2" x="203"/><use href="#m5" x="228"/><use href="#m4" x="244"/><use href="#m3" x="256"/><line class="in" x1="470" x2="475"/><rect class="ex" x="461" y="-2.5" width="8" height="5" rx="1.5"/><rect class="ex" x="471" y="-2.5" width="4" height="5" rx="1.5"/></g>
<g id="r51" transform="translate(0,396.6)"><text class="lab" x="125" y="1.9">CsPME30</text><line class="bb" x1="165" x2="280"/><use href="#m10" x="166"/><use href="#m9" x="174"/><use href="#m6" x="185"/><use href="#m2" x="197"/><use href="#m1" x="215"/><use href="#m5" x="230"/><use href="#m4" x="245"/><use href="#m3" x="258"/><use href="#m7" x="269"/><line class="in" x1="470" x2="476"/><rect class="ex" x="461" y="-2.5" width="10" height="5" rx="1.5"/><rect class="ex" x="474" y="-2.5" width="6" height="5" rx="1.5"/></g>
<g id="r52" transform="translate(0,403.9)"><text class="lab" x="125" y="1.9">CsPME29</text><line class="bb" x1="165" x2="280"/><use href="#m10" x="166"/><use href="#m9" x="174"/><use href="#m6" x="185"/><use href="#m2" x="197"/><use href="#m1" x="215"/><use href="#m5" x="230"/><use href="#m4" x="245"/><use href="#m3" x="258"/><use href="#m7" x="269"/><line class="in" x1="470" x2="476"/><rect class="ex" x="461" y="-2.5" width="10" height="5" rx="1.5"/><rect class="ex" x="474" y="-2.5" width="6" height="5" rx="1.5"/></g>
<g id="r53" transform="translate(0,411.2)"><text class="lab" x="125" y="1.9">CsPME50</text><line class="bb" x1="165" x2="371"/><use href="#m8" x="214"/><use href="#m10" x="255"/><use href="#m9" x="264"/><use href="#m6" x="275"/><use href="#m2" x="287"/><use href="#m1" x="305"/><use href="#m5" x="320"/><use href="#m4" x="335"/><use href="#m3" x="348"/><use href="#m7" x="360"/><line class="in" x1="475" x2="502"/><rect class="ex" x="461" y="-2.5" width="15" height="5" rx="1.5"/><rect class="ex" x="500" y="-2.5" width="10" height="5" rx="1.5"/></g>
<g id="r54" transform="translate(0,418.5)"><text class="lab" x="125" y="1.9">CsPME52</text><line class="bb" x1="165" x2="371"/><use href="#m8" x="214"/><use href="#m10" x="255"/><use href="#m9" x="263"/><use href="#m6" x="274"/><use href="#m2" x="286"/><use href="#m1" x="304"/><use href="#m5" x="319"/><use href="#m4" x="335"/><use href="#m3" x="348"/><use href="#m7" x="360"/><line class="in" x1="475" x2="512"/><rect class="ex" x="461" y="-2.5" width="15" height="5" rx="1.5"/><rect class="ex" x="510" y="-2.5" width="10" height="5" rx="1.5"/></g>
<g id="r55" transform="translate(0,425.8)"><text class="lab" x="125" y="1.9">CsPME26</text><line class="bb" x1="165" x2="351"/><use href="#m8" x="212"/><use href="#m10" x="234"/><use href="#m9" x="243"/><use href="#m6" x="254"/><use href="#m2" x="265"/><use href="#m1" x="284"/><use href="#m5" x="299"/><use href="#m4" x="314"/><use href="#m3" x="327"/><use href="#m7" x="340"/><line class="in" x1="475" x2="487"/><rect class="ex" x="461" y="-2.5" width="15" height="5" rx="1.5"/><rect class="ex" x="485" y="-2.5" width="10" height="5" rx="1.5"/></g>
<g id="r56" transform="translate(0,433.1)"><text class="lab" x="125" y="1.9">CsPME27</text><line class="bb" x1="165" x2="359"/><use href="#m8" x="212"/><use href="#m10" x="243"/><use href="#m9" x="252"/><use href="#m6" x="263"/><use href="#m2" x="274"/><use href="#m1" x="293"/><use href="#m5" x="308"/><use href="#m4" x="323"/><use href="#m3" x="336"/><use href="#m7" x="348"/><line class="in" x1="475" x2="487"/><rect class="ex" x="461" y="-2.5" width="15" height="5" rx="1.5"/><rect class="ex" x="485" y="-2.5" width="10" height="5" rx="1.5"/></g>
<g id="r57" transform="translate(0,440.4)"><text class="lab" x="125" y="1.9">CsPME19</text><line class="bb" x1="165" x2="362"/><use href="#m8" x="213"/><use href="#m10" x="250"/><use href="#m9" x="259"/><use href="#m6" x="270"/><use href="#m2" x="282"/><use href="#m5" x="311"/><use href="#m4" x="326"/><use href="#m3" x="339"/><use href="#m7" x="351"/><line class="in" x1="475" x2="502"/><rect class="ex" x="461" y="-2.5" width="15" height="5" rx="1.5"/><rect class="ex" x="500" y="-2.5" width="10" height="5" rx="1.5"/></g>
<g id="r58" transform="translate(0,447.7)"><text class="lab" x="125" y="1.9">CsPME8</text><line class="bb" x1="165" x2="371"/><use href="#m8" x="214"/><use href="#m10" x="256"/><use href="#m9" x="263"/><use href="#m6" x="274"/><use href="#m2" x="287"/><use href="#m1" x="305"/><use href="#m5" x="320"/><use href="#m4" x="335"/><use href="#m3" x="348"/><use href="#m7" x="360"/><line class="in" x1="475" x2="497"/><rect class="ex" x="461" y="-2.5" width="15" height="5" rx="1.5"/><rect class="ex" x="495" y="-2.5" width="10" height="5" rx="1.5"/></g>
<g id="r59" transform="translate(0,455)"><text class="lab" x="125" y="1.9">CsPME12</text><line class="bb" x1="165" x2="368"/><use href="#m8" x="212"/><use href="#m10" x="253"/><use href="#m9" x="261"/><use href="#m6" x="273"/><use href="#m2" x="284"/><use href="#m1" x="303"/><use href="#m5" x="318"/><use href="#m4" x="333"/><use href="#m3" x="346"/><use href="#m7" x="357"/><line class="in" x1="475" x2="507"/><rect class="ex" x="461" y="-2.5" width="15" height="5" rx="1.5"/><rect class="ex" x="505" y="-2.5" width="10" height="5" rx="1.5"/></g>
<g id="r60" transform="translate(0,462.3)"><text class="lab" x="125" y="1.9">CsPME20</text><line class="bb" x1="165" x2="352"/><use href="#m8" x="212"/><use href="#m10" x="248"/><use href="#m9" x="257"/><use href="#m2" x="272"/><use href="#m5" x="302"/><use href="#m4" x="317"/><use href="#m3" x="330"/><use href="#m7" x="342"/><line class="in" x1="475" x2="502"/><rect class="ex" x="461" y="-2.5" width="15" height="5" rx="1.5"/><rect class="ex" x="500" y="-2.5" width="10" height="5" rx="1.5"/></g>
<g id="r61" transform="translate(0,469.6)"><text class="lab" x="125" y="1.9">CsPME11</text><line class="bb" x1="165" x2="368"/><use href="#m8" x="212"/><use href="#m10" x="253"/><use href="#m9" x="261"/><use href="#m6" x="273"/><use href="#m2" x="284"/><use href="#m1" x="303"/><use href="#m5" x="318"/><use href="#m4" x="333"/><use href="#m3" x="346"/><use href="#m7" x="357"/><line class="in" x1="475" x2="512"/><rect class="ex" x="461" y="-2.5" width="15" height="5" rx="1.5"/><rect class="ex" x="510" y="-2.5" width="10" height="5" rx="1.5"/></g>
<g id="r62" transform="translate(0,476.9)"><text class="lab" x="125" y="1.9">CsPME18</text><line class="bb" x1="165" x2="364"/><use href="#m8" x="212"/><use href="#m10" x="253"/><use href="#m9" x="261"/><use href="#m6" x="272"/><use href="#m2" x="283"/><use href="#m5" x="313"/><use href="#m4" x="328"/><use href="#m3" x="342"/><use href="#m7" x="353"/><line class="in" x1="475" x2="682"/><rect class="ex" x="461" y="-2.5" width="15" height="5" rx="1.5"/><rect class="ex" x="678" y="-2.5" width="10" height="5" rx="1.5"/></g>
<g id="r63" transform="translate(0,484.2)"><text class="lab" x="125" y="1.9">CsPME15</text><line class="bb" x1="165" x2="365"/><use href="#m8" x="212"/><use href="#m10" x="253"/><use href="#m9" x="261"/><use href="#m6" x="272"/><use href="#m2" x="283"/><use href="#m1" x="302"/><use href="#m5" x="317"/><use href="#m3" x="342"/><use href="#m7" x="354"/><line class="in" x1="475" x2="657"/><rect class="ex" x="461" y="-2.5" width="15" height="5" rx="1.5"/><rect class="ex" x="652" y="-2.5" width="10" height="5" rx="1.5"/></g>
<g id="r64" transform="translate(0,491.5)"><text class="lab" x="125" y="1.9">CsPME16</text><line class="bb" x1="165" x2="358"/><use href="#m8" x="212"/><use href="#m10" x="246"/><use href="#m9" x="254"/><use href="#m6" x="265"/><use href="#m2" x="277"/><use href="#m5" x="307"/><use href="#m4" x="322"/><use href="#m3" x="335"/><use href="#m7" x="347"/><line class="in" x1="475" x2="635"/><rect class="ex" x="461" y="-2.5" width="15" height="5" rx="1.5"/><rect class="ex" x="630" y="-2.5" width="10" height="5" rx="1.5"/></g>
<g id="r65" transform="translate(0,498.8)"><text class="lab" x="125" y="1.9">CsPME17</text><line class="bb" x1="165" x2="360"/><use href="#m8" x="212"/><use href="#m10" x="248"/><use href="#m9" x="257"/><use href="#m6" x="268"/><use href="#m2" x="279"/><use href="#m5" x="309"/><use href="#m4" x="324"/><use href="#m3" x="337"/><use href="#m7" x="349"/><line class="in" x1="475" x2="512"/><rect class="ex" x="461" y="-2.5" width="15" height="5" rx="1.5"/><rect class="ex" x="510" y="-2.5" width="10" height="5" rx="1.5"/></g>
</g>
<g id="axis-b">
<path class="axl" d="M166 505H395M400 505H423M166 505V503M239 505V503M312 505V503M385 505V503M423 505V503M394 507L397 503M397 507L400 503"/>
<text class="tiny" x="163" y="503">5'</text><text class="tiny" x="420" y="503">3'</text>
<text class="ax" x="168" y="516">0aa</text><text class="ax" x="240" y="516">200aa</text><text class="ax" x="313" y="516">400aa</text><text class="ax" x="385" y="516">600aa</text><text class="ax" x="424" y="516">1400aa</text>
</g>
<g id="axis-c">
<path class="axl" d="M461 503H760M461 503V501M482.3 503V501.5M503.6 503V501M524.9 503V501.5M546.2 503V501M567.5 503V501.5M588.8 503V501M610.1 503V501.5M631.4 503V501M652.7 503V501.5M674 503V501M695.3 503V501.5M716.6 503V501M737.9 503V501.5M759.2 503V501"/>
<text class="tiny" x="457" y="502">5'</text><text class="tiny" x="762" y="502">3'</text>
<text class="ax" x="462" y="516">0kb</text><text class="ax" x="505" y="516">2kb</text><text class="ax" x="547" y="516">4kb</text><text class="ax" x="590" y="516">6kb</text><text class="ax" x="633" y="516">8kb</text><text class="ax" x="674" y="516">10kb</text><text class="ax" x="717" y="516">12kb</text><text class="ax" x="759" y="516">14kb</text>
</g>
</svg>
